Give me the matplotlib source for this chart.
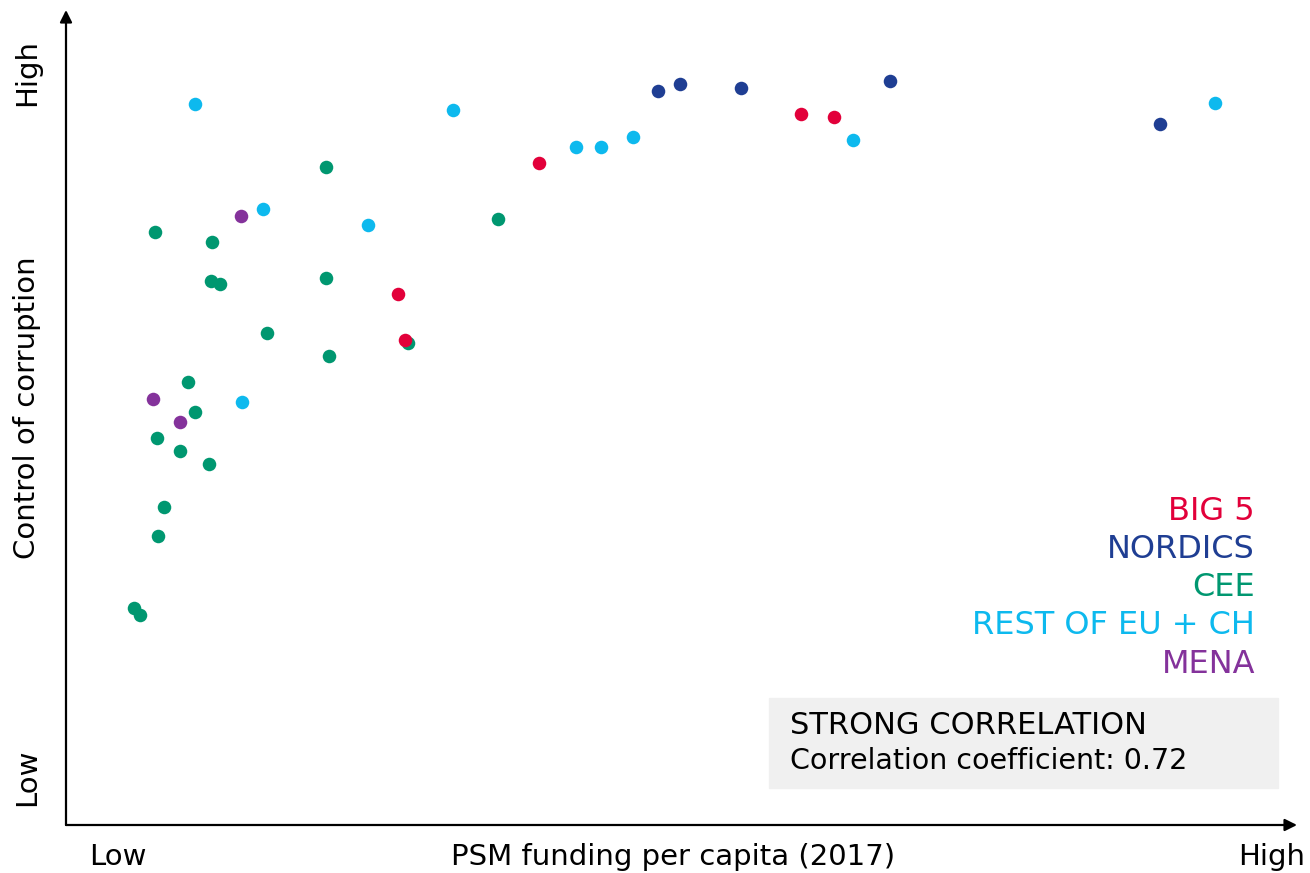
import matplotlib
matplotlib.use("Agg")
import matplotlib.pyplot as plt
from matplotlib.patches import Rectangle

# funding index (0-100) and control-of-corruption index (0-100)
big5_x = [38.4, 59.7, 62.4, 27.0, 27.5]
big5_y = [81.2, 87.2, 86.9, 65.2, 59.5]

nordics_x = [48.1, 49.9, 54.8, 66.9, 88.9]
nordics_y = [90.1, 90.9, 90.4, 91.3, 86.0]

cee_x = [21.1, 7.2, 11.9, 11.8, 12.5, 21.1, 27.8, 16.3, 21.4, 9.9,
         10.5, 7.4, 9.3, 11.6, 8.0, 7.5, 5.5, 6.0, 35.1]
cee_y = [80.7, 72.8, 71.5, 66.7, 66.4, 67.1, 59.1, 60.4, 57.5, 54.4,
         50.7, 47.5, 45.9, 44.3, 39.0, 35.5, 26.6, 25.8, 74.4]

rest_x = [10.5, 31.4, 16.0, 24.5, 14.3, 41.4, 43.5, 46.1, 63.9, 93.3]
rest_y = [88.5, 87.7, 75.6, 73.6, 51.9, 83.2, 83.2, 84.4, 84.0, 88.6]

mena_x = [14.2, 7.1, 9.3]
mena_y = [74.7, 52.3, 49.4]

groups = ["BIG 5", "NORDICS", "CEE", "REST OF EU + CH", "MENA"]
colors = {"BIG 5": "#E2003A", "NORDICS": "#1F3E93", "CEE": "#009770",
          "REST OF EU + CH": "#0DB9EE", "MENA": "#84329B"}

W, H = 1310, 873
fig = plt.figure(figsize=(W / 100, H / 100), dpi=100)
ax = fig.add_axes([66 / W, (H - 825) / H, (1297 - 66) / W, (825 - 10) / H])
ax.set_xlim(0, 100)
ax.set_ylim(0, 100)
ax.axis("off")

s = 95
ax.scatter(cee_x, cee_y, s=s, color=colors["CEE"], lw=0, zorder=2)
ax.scatter(rest_x, rest_y, s=s, color=colors["REST OF EU + CH"], lw=0, zorder=3)
ax.scatter(mena_x, mena_y, s=s, color=colors["MENA"], lw=0, zorder=3)
ax.scatter(nordics_x, nordics_y, s=s, color=colors["NORDICS"], lw=0, zorder=3)
ax.scatter(big5_x, big5_y, s=s, color=colors["BIG 5"], lw=0, zorder=4)

# arrow axes
arr = dict(arrowstyle="-|>", color="black", lw=1.6, mutation_scale=18, shrinkA=0, shrinkB=0)
ax.annotate("", xy=(1, 0), xytext=(0, 0), xycoords="axes fraction", arrowprops=arr, annotation_clip=False)
ax.annotate("", xy=(0, 1), xytext=(0, 0), xycoords="axes fraction", arrowprops=arr, annotation_clip=False)

def fx(px):
    return px / W

def fy(py):
    return 1 - py / H

fs = 21
fig.text(fx(118), fy(857), "Low", ha="center", va="center", fontsize=fs)
fig.text(fx(1272), fy(857), "High", ha="center", va="center", fontsize=fs)
fig.text(fx(673), fy(857), "PSM funding per capita (2017)", ha="center", va="center", fontsize=fs)
fig.text(fx(27), fy(72), "High", ha="center", va="center", rotation=90, fontsize=fs)
fig.text(fx(27), fy(777), "Low", ha="center", va="center", rotation=90, fontsize=fs)
fig.text(fx(27), fy(408), "Control of corruption", ha="center", va="center", rotation=90, fontsize=fs)

# legend as coloured labels
for i, g in enumerate(groups):
    fig.text(fx(1255), fy(511 + i * 38.3), g, ha="right", va="center",
             fontsize=23, color=colors[g])

fig.patches.append(Rectangle((fx(769), fy(788)), (1278 - 769) / W, (788 - 698) / H,
                             transform=fig.transFigure, color="#F0F0F0", zorder=0))
fig.text(fx(790), fy(725), "STRONG CORRELATION", ha="left", va="center", fontsize=22)
fig.text(fx(790), fy(761), "Correlation coefficient: 0.72", ha="left", va="center", fontsize=20.5)

fig.savefig("out.png", dpi=100)
